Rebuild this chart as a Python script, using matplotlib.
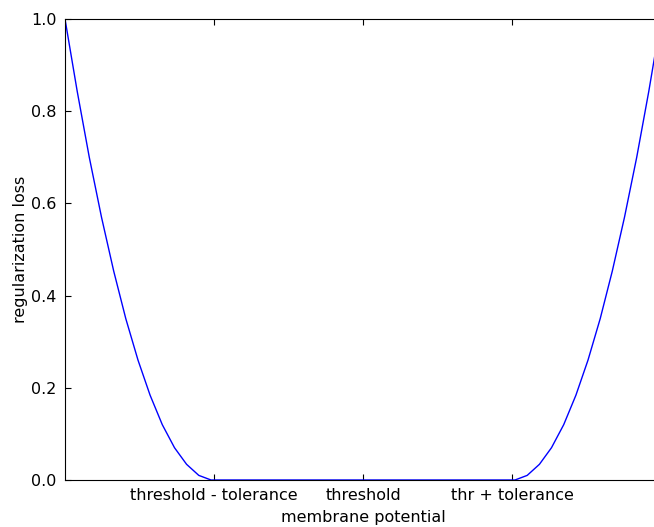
import matplotlib
matplotlib.use("Agg")
from matplotlib import pyplot as plt

# membrane potential, in units of tolerance around the threshold
potential = [-2.000, -1.918, -1.837, -1.755, -1.673, -1.592, -1.510, -1.429, -1.347, -1.265,
             -1.184, -1.102, -1.020, -0.939, -0.857, -0.776, -0.694, -0.612, -0.531, -0.449,
             -0.367, -0.286, -0.204, -0.122, -0.041, 0.041, 0.122, 0.204, 0.286, 0.367,
             0.449, 0.531, 0.612, 0.694, 0.776, 0.857, 0.939, 1.020, 1.102, 1.184,
             1.265, 1.347, 1.429, 1.510, 1.592, 1.673, 1.755, 1.837, 1.918, 2.000]
loss = [1.000, 0.843, 0.700, 0.570, 0.453, 0.350, 0.260, 0.184, 0.120, 0.070,
        0.034, 0.010, 0.000, 0.0, 0.0, 0.0, 0.0, 0.0, 0.0, 0.0,
        0.0, 0.0, 0.0, 0.0, 0.0, 0.0, 0.0, 0.0, 0.0, 0.0,
        0.0, 0.0, 0.0, 0.0, 0.0, 0.0, 0.0, 0.000, 0.010, 0.034,
        0.070, 0.120, 0.184, 0.260, 0.350, 0.453, 0.570, 0.700, 0.843, 1.000]
tick_pos = [-1, 0, 1]
tick_labels = ["threshold - tolerance", "threshold", "thr + tolerance"]
yticks = [0.0, 0.2, 0.4, 0.6, 0.8, 1.0]
ytick_labels = ["0.0", "0.2", "0.4", "0.6", "0.8", "1.0"]

plt.rcParams["font.size"] = 11.5
fig = plt.figure(figsize=(6.54, 5.27), dpi=100)
ax = fig.add_axes([65 / 654, 47 / 527, 596 / 654, 461 / 527])
ax.plot(potential, loss, color="b", linewidth=1)
ax.set_xlim(-2, 2)
ax.set_ylim(0, 1)
ax.set_xticks(tick_pos)
ax.set_xticklabels(tick_labels)
ax.set_yticks(yticks)
ax.set_yticklabels(ytick_labels)
ax.tick_params(direction="in", top=True, right=True, length=4, pad=6)
ax.set_xlabel("membrane potential", labelpad=5)
ax.set_ylabel("regularization loss", labelpad=2)
fig.savefig("out.png", dpi=100)
